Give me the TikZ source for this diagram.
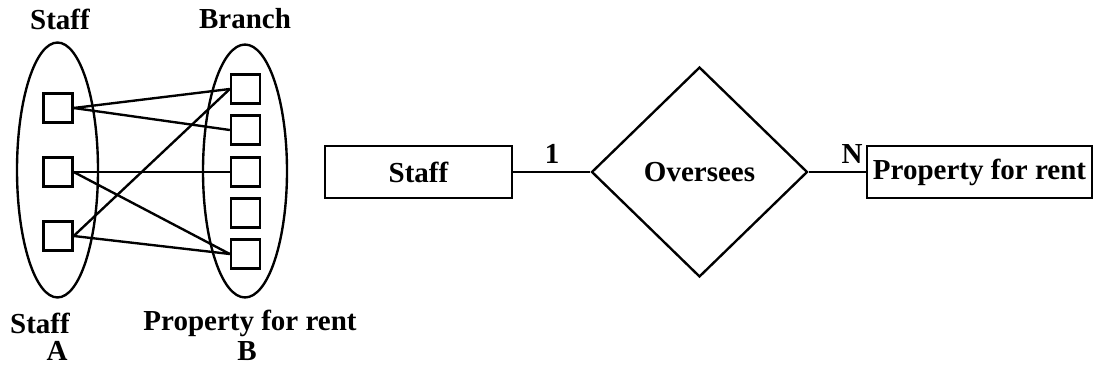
\documentclass[tikz,border=0pt]{standalone}
\usepackage{fontspec}
\setmainfont{Liberation Serif}
\usetikzlibrary{shapes.geometric}
\begin{document}
\begin{tikzpicture}[x=0.02cm,y=-0.02cm,
  every node/.style={font=\fontsize{16.5}{18}\selectfont\bfseries},
  lw/.style={line width=1.35pt},
  setell/.style={draw,lw,ellipse,inner sep=0pt},
  elem/.style={draw,lw,rectangle,inner sep=0pt,minimum size=0.58cm},
  entity/.style={draw,lw,rectangle,inner sep=0pt,minimum height=1.04cm},
  rel/.style={draw,lw,diamond,inner sep=0pt,minimum width=4.32cm,minimum height=4.2cm},
  lbl/.style={inner sep=0pt},
  conn/.style={lw}]
\useasboundingbox (0,0) rectangle (1094,374);
% left set diagram
\node[setell,minimum width=1.62cm,minimum height=5.1cm] (EA) at (57.5,170) {};
\node[setell,minimum width=1.68cm,minimum height=5.06cm] (EB) at (245,171) {};
\node[elem] (a1) at (58,108) {};
\node[elem] (a2) at (58,172) {};
\node[elem] (a3) at (58,236) {};
\node[elem] (b1) at (245.5,89) {};
\node[elem] (b2) at (245.5,130) {};
\node[elem] (b3) at (245.5,172) {};
\node[elem] (b4) at (245.5,213) {};
\node[elem] (b5) at (245.5,254) {};
\draw[conn] (a1.east) -- (b1.west);
\draw[conn] (a1.east) -- (b2.west);
\draw[conn] (a2.east) -- (b3.west);
\draw[conn] (a2.east) -- (b5.west);
\draw[conn] (a3.east) -- (b1.west);
\draw[conn] (a3.east) -- (b5.west);
\node[lbl] (tA) at (60,19) {Staff};
\node[lbl] (tB) at (245,19) {Branch};
\node[lbl] (sA) at (40,323) {Staff};
\node[lbl] (sB) at (250,323) {Property for rent};
\node[lbl] (lA) at (57,351) {A};
\node[lbl] (lB) at (247,351) {B};
% ER diagram
\node[entity,minimum width=3.74cm] (staff) at (418.5,172) {Staff};
\node[rel] (ov) at (699.5,172) {Oversees};
\node[entity,minimum width=4.5cm] (prop) at (979.5,172) {Property for rent};
\draw[conn] (staff.east) -- (ov.west);
\draw[conn] (ov.east) -- (prop.west);
\node[lbl] (one) at (552,154) {1};
\node[lbl] (n) at (852,154) {N};
\end{tikzpicture}
\end{document}
